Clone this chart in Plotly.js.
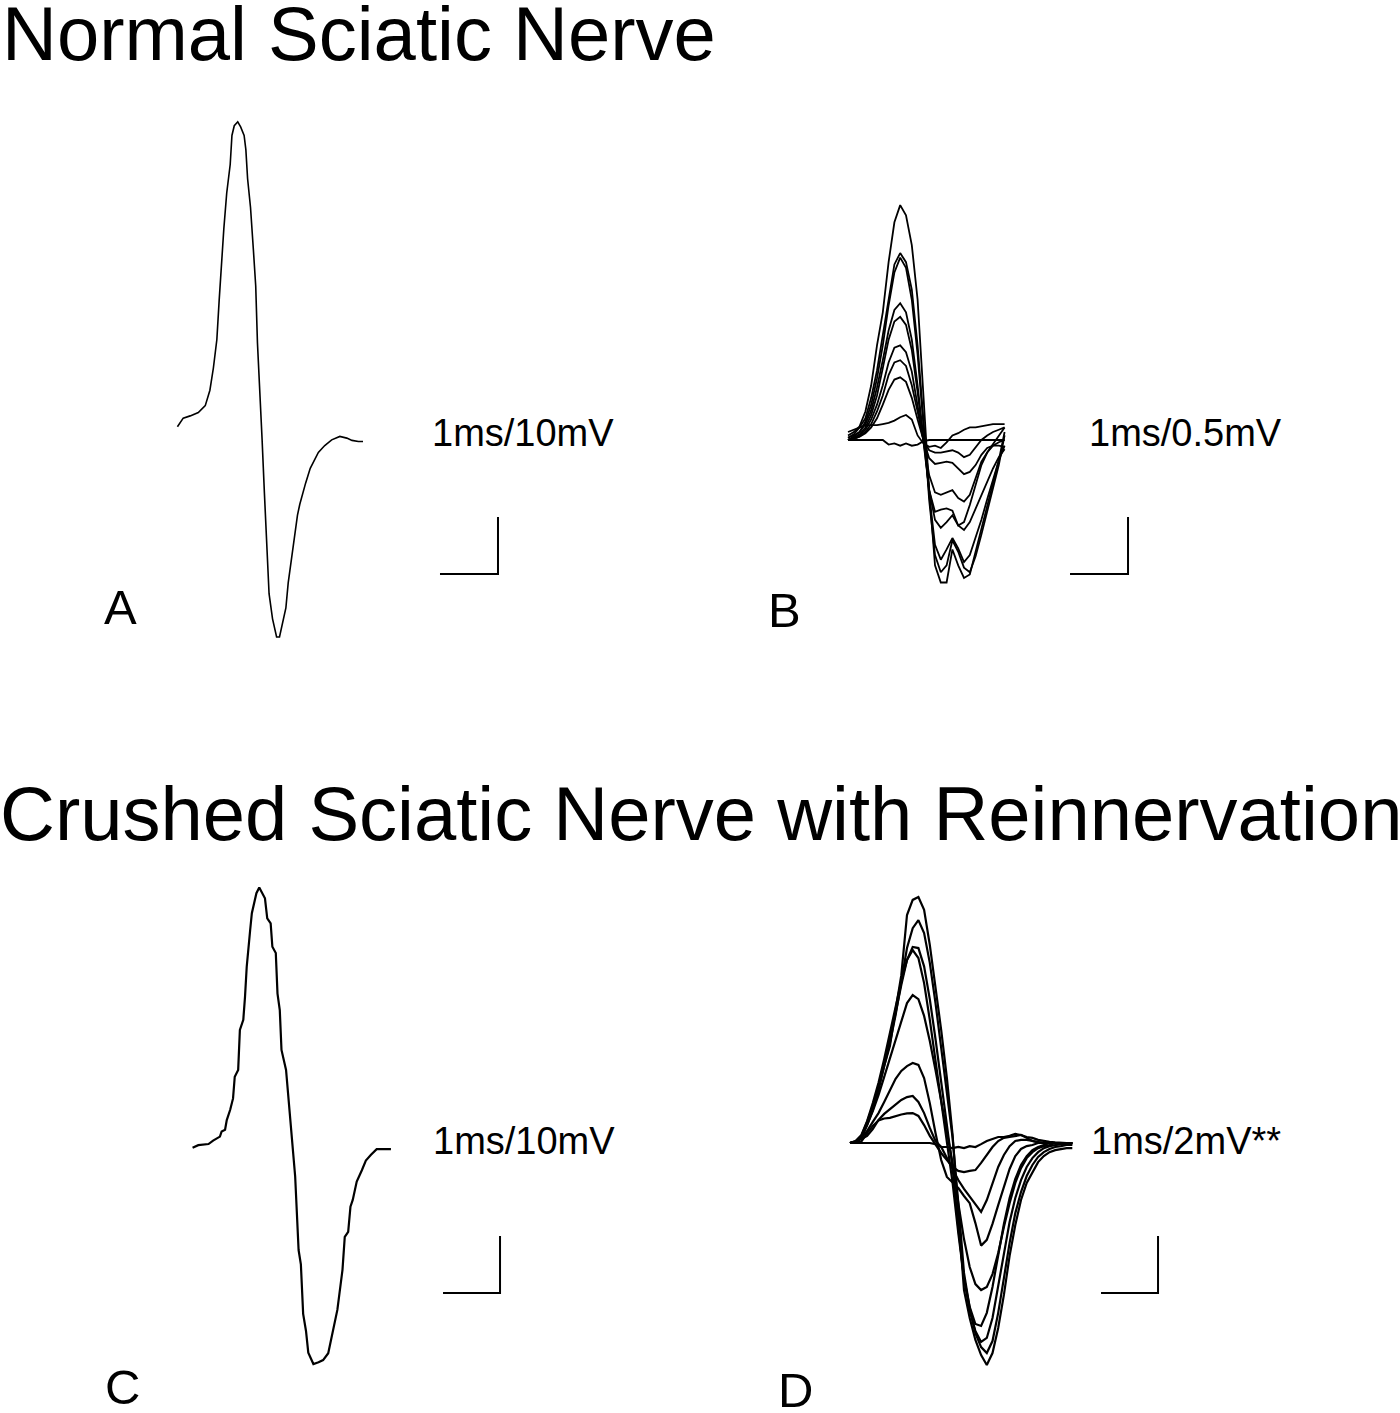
<!DOCTYPE html>
<html><head><meta charset="utf-8">
<script src="https://cdn.plot.ly/plotly-3.0.1.min.js"></script>
<style>html,body{margin:0;padding:0;background:#fff}#chart{width:1400px;height:1413px}</style>
</head><body><div id="chart"></div>
<script>
// ---------- DATA (time in ms, amplitude in mV) ----------
const tA = [-0.01,0.09,0.21,0.35,0.47,0.55,0.61,0.67,0.71,0.75,0.79,0.84,0.90,0.93,0.97,1.03,1.08,1.14,1.17,1.20,1.25,1.30,1.34,1.37,1.41,1.45,1.49,1.53,1.57,1.63,1.70,1.75,1.80,1.86,1.90,1.96,2.02,2.06,2.10,2.15,2.20,2.28,2.34,2.42,2.53,2.65,2.79,2.91,3.00,3.11,3.19];
const vA = [-0.3,1.2,1.6,2.2,3.4,6.1,10.0,15.0,21.9,28.8,34.4,40.7,45.7,50.8,52.5,53.2,52.3,50.8,48.3,43.2,38.2,30.7,24.4,14.4,6.8,-2.6,-12.0,-20.2,-29.6,-34.0,-37.2,-37.2,-34.6,-32.1,-27.7,-23.3,-18.9,-15.8,-13.9,-12.0,-10.2,-7.6,-6.4,-4.8,-3.6,-2.6,-2.0,-2.3,-2.7,-2.9,-2.9];

const tB = [0,0.1,0.2,0.3,0.4,0.5,0.6,0.7,0.8,0.9,1.0,1.1,1.2,1.3,1.4,1.5,1.6,1.7,1.8,1.9,2.0,2.1,2.2,2.3,2.4,2.5,2.6,2.7];
const vB1 = [0.04,0.07,0.12,0.25,0.48,0.83,1.12,1.56,1.91,2.06,1.97,1.71,1.23,0.44,-0.44,-1.10,-1.25,-1.25,-0.96,-1.10,-1.21,-1.18,-0.98,-0.79,-0.57,-0.38,-0.18,0.07];
const vB2 = [0.02,0.05,0.11,0.19,0.37,0.61,0.92,1.23,1.54,1.64,1.56,1.32,0.83,0.18,-0.53,-1.01,-1.16,-1.10,-0.88,-0.98,-1.12,-1.16,-1.02,-0.83,-0.62,-0.42,-0.22,0.04];
const vB3 = [0,0.03,0.07,0.16,0.31,0.54,0.83,1.18,1.47,1.60,1.51,1.23,0.75,0.13,-0.48,-0.92,-1.05,-0.96,-0.86,-0.95,-1.07,-1.01,-0.86,-0.70,-0.52,-0.35,-0.18,-0.05];
const vB4 = [0.02,0.04,0.07,0.14,0.26,0.46,0.70,0.96,1.14,1.20,1.12,0.88,0.48,0.04,-0.44,-0.70,-0.77,-0.72,-0.66,-0.75,-0.79,-0.72,-0.60,-0.48,-0.36,-0.25,-0.15,-0.08];
const vB5 = [0,0.02,0.05,0.11,0.22,0.39,0.63,0.88,1.04,1.08,1.01,0.79,0.42,0,-0.44,-0.63,-0.61,-0.60,-0.62,-0.75,-0.72,-0.57,-0.39,-0.22,-0.11,-0.04,0.04,0.11];
const vB6 = [0,0.02,0.04,0.09,0.18,0.31,0.48,0.68,0.81,0.83,0.77,0.60,0.31,0,-0.31,-0.46,-0.48,-0.46,-0.44,-0.51,-0.54,-0.48,-0.33,-0.19,-0.11,-0.05,-0.02,0];
const vB7 = [0,0.01,0.03,0.07,0.14,0.25,0.39,0.57,0.68,0.70,0.65,0.48,0.25,0,-0.16,-0.21,-0.20,-0.19,-0.20,-0.25,-0.30,-0.28,-0.22,-0.13,-0.07,-0.05,-0.05,-0.06];
const vB8 = [0,0.01,0.03,0.06,0.11,0.19,0.31,0.44,0.53,0.55,0.51,0.37,0.18,0,-0.09,-0.11,-0.11,-0.10,-0.09,-0.11,-0.15,-0.13,-0.06,0,0.04,0.07,0.09,0.11];
const vB9 = [0.07,0.09,0.11,0.13,0.13,0.13,0.14,0.15,0.17,0.20,0.22,0.18,0.04,-0.03,-0.06,-0.05,-0.07,-0.02,0.04,0.06,0.09,0.11,0.11,0.12,0.13,0.14,0.14,0.14];
const vB10 = [0,0,0,0,0,0,0,-0.04,-0.03,-0.05,-0.03,-0.05,-0.04,-0.01,0,0,0,0,0,0,0,0,0,0,0,0,0,0];

const tC = [0.01,0.11,0.29,0.37,0.49,0.52,0.58,0.61,0.67,0.72,0.75,0.81,0.84,0.90,0.93,0.96,1.02,1.05,1.13,1.18,1.28,1.32,1.38,1.41,1.47,1.50,1.54,1.57,1.65,1.72,1.81,1.87,1.91,1.95,2.00,2.04,2.13,2.22,2.30,2.39,2.46,2.55,2.64,2.68,2.74,2.78,2.82,2.89,2.98,3.05,3.14,3.21,3.24,3.49];
const vC = [0.05,0.5,0.7,1.3,2.0,2.9,3.2,4.9,6.7,8.7,12.5,13.7,20.7,22.5,26.5,31.8,38.2,41.2,44.7,45.7,43.8,40.3,39.4,35.3,34.2,27.1,24.2,17.2,13.7,5.5,-5.0,-17.9,-20.4,-29.1,-32.1,-35.9,-37.9,-37.6,-37.2,-36.0,-32.8,-28.4,-21.4,-15.6,-14.7,-10.3,-9.1,-5.9,-3.9,-2.2,-1.2,-0.5,-0.2,-0.2];

const tD = [0,0.1,0.2,0.3,0.4,0.5,0.6,0.7,0.8,0.9,1.0,1.1,1.2,1.3,1.4,1.5,1.6,1.7,1.8,1.9,2.0,2.1,2.2,2.3,2.4,2.5,2.6,2.7,2.8,2.9,3.0,3.1,3.2,3.3,3.4,3.5,3.6,3.7,3.8,3.9];
const vD1 = [0,0.04,0.18,0.63,1.16,1.86,2.70,3.40,4.67,5.89,8.00,8.53,8.63,8.18,6.95,5.54,3.96,2.28,0.28,-2.53,-5.16,-6.14,-6.91,-7.44,-7.79,-7.37,-6.49,-5.33,-3.96,-2.88,-2.00,-1.40,-1.02,-0.67,-0.46,-0.32,-0.25,-0.21,-0.18,-0.18];
const vD2 = [0,0.04,0.21,0.70,1.26,1.93,2.70,3.51,4.49,5.61,6.84,7.54,7.82,7.37,6.32,4.91,3.33,1.75,0.18,-2.10,-4.56,-5.79,-6.67,-7.16,-7.37,-6.95,-5.96,-4.74,-3.51,-2.46,-1.72,-1.16,-0.77,-0.49,-0.32,-0.21,-0.14,-0.11,-0.07,-0.07];
const vD3 = [0,0.07,0.25,0.74,1.30,2.00,2.81,3.65,4.56,5.54,6.42,6.88,6.84,6.20,5.05,3.65,2.18,0.70,-0.88,-2.98,-4.74,-5.89,-6.60,-6.98,-6.84,-6.14,-5.05,-3.86,-2.77,-1.93,-1.30,-0.84,-0.53,-0.32,-0.18,-0.11,-0.07,-0.04,-0.04,-0.04];
const vD4 = [0,0.07,0.28,0.77,1.40,2.11,2.95,3.86,4.77,5.68,6.42,6.77,6.49,5.61,4.32,2.91,1.47,0.07,-1.40,-3.16,-4.74,-5.75,-6.35,-6.42,-5.96,-5.05,-3.93,-2.84,-1.93,-1.26,-0.77,-0.46,-0.25,-0.14,-0.07,0,0,0,0,0];
const vD5 = [0,0.04,0.21,0.63,1.12,1.68,2.32,2.98,3.65,4.32,4.91,5.19,5.05,4.46,3.58,2.56,1.51,0.46,-0.70,-2.11,-3.37,-4.35,-4.95,-5.16,-5.05,-4.60,-3.86,-2.95,-2.11,-1.40,-0.88,-0.53,-0.32,-0.18,-0.11,-0.07,0,0,0,0];
const vD6 = [0,0.04,0.18,0.42,0.74,1.05,1.44,1.86,2.25,2.53,2.70,2.81,2.74,2.28,1.40,0.35,-0.60,-1.19,-1.40,-1.58,-1.86,-2.11,-2.81,-3.60,-3.40,-2.84,-2.18,-1.54,-0.91,-0.46,-0.21,-0.11,-0.07,0,0,0,0,0,0,0];
const vD7 = [0,0.04,0.14,0.25,0.49,0.81,1.02,1.19,1.37,1.51,1.61,1.65,1.44,1.05,0.53,0.07,-0.14,-0.53,-0.91,-1.30,-1.61,-1.89,-2.18,-2.42,-2.00,-1.40,-0.84,-0.42,-0.11,0.07,0.11,0.11,0.07,0.04,0,0,0,0,0,0];
const vD8 = [0,0.02,0.05,0.35,0.60,0.79,0.86,0.88,0.95,1.00,1.04,1.05,0.95,0.63,0.25,-0.07,-0.35,-0.60,-0.84,-0.98,-1.02,-0.98,-0.95,-0.70,-0.42,-0.14,0.07,0.18,0.21,0.25,0.28,0.18,0.07,0.02,0,0,0,0,0,0];
const vD9 = [0,0,0,0,0,0,0,0,0,0,0,0,0,0,0,-0.04,-0.14,-0.14,-0.18,-0.14,-0.18,-0.11,-0.14,-0.04,0.07,0.14,0.21,0.21,0.25,0.32,0.28,0.21,0.18,0.11,0.07,0.04,0.02,0,0,0];

const panelLetters = ['A','B','C','D'];
const scaleLabels = ['1ms/10mV','1ms/0.5mV','1ms/10mV','1ms/2mV**'];
const scaleMs = [1,1,1,1];
const scaleMv = [10,0.5,10,2];
const sectionTitles = ['Normal Sciatic Nerve','Crushed Sciatic Nerve with Reinnervation'];

// ---------- LAYOUT / GEOMETRY ----------
const W = 1400, H = 1413;
const FONT = 'Liberation Sans, Arial, Helvetica, sans-serif';
// dom: [left, right, top, bottom] in px; origin px of (0 ms, 0 mV); px per ms; px per mV
const panels = [
  {dom:[150,700,90,680],  x0:178, y0:425,  pxMs:58, pxMv:5.7,  lw:1.6, series:[[tA,[vA]]],
   bar:{t:5.517, v:-26.14}},
  {dom:[780,1340,90,680], x0:848, y0:440,  pxMs:58, pxMv:114,  lw:1.8, series:[[tB,[vB10,vB9,vB8,vB7,vB6,vB5,vB4,vB3,vB2,vB1]]],
   bar:{t:4.828, v:-1.175}},
  {dom:[150,700,860,1413], x0:192, y0:1148, pxMs:57, pxMv:5.7, lw:2.2, series:[[tC,[vC]]],
   bar:{t:5.404, v:-25.44}},
  {dom:[780,1340,860,1413], x0:850, y0:1143, pxMs:57, pxMv:28.5, lw:2.2, series:[[tD,[vD9,vD8,vD7,vD6,vD5,vD4,vD3,vD2,vD1]]],
   bar:{t:5.404, v:-5.263}}
];

const traces = [];
const layout = {
  width: W, height: H, margin:{l:0,r:0,t:0,b:0},
  paper_bgcolor:'#ffffff', plot_bgcolor:'rgba(0,0,0,0)',
  showlegend:false, annotations:[]
};

panels.forEach((p, i) => {
  const n = i === 0 ? '' : String(i+1);
  const xa = 'xaxis'+n, ya = 'yaxis'+n;
  layout[xa] = {
    domain:[p.dom[0]/W, p.dom[1]/W],
    range:[(p.dom[0]-p.x0)/p.pxMs, (p.dom[1]-p.x0)/p.pxMs],
    visible:false, fixedrange:true, anchor:'y'+n
  };
  layout[ya] = {
    domain:[1-p.dom[3]/H, 1-p.dom[2]/H],
    range:[(p.y0-p.dom[3])/p.pxMv, (p.y0-p.dom[2])/p.pxMv],
    visible:false, fixedrange:true, anchor:'x'+n
  };
  p.series.forEach(([t, vs]) => {
    vs.forEach(v => traces.push({
      type:'scatter', mode:'lines', x:t, y:v, xaxis:'x'+n, yaxis:'y'+n,
      line:{color:'#000', width:p.lw, shape:'linear'}, hoverinfo:'skip'
    }));
  });
  // scale bar: 1 ms horizontal + amplitude vertical (L shape)
  traces.push({
    type:'scatter', mode:'lines', xaxis:'x'+n, yaxis:'y'+n,
    x:[p.bar.t - scaleMs[i], p.bar.t, p.bar.t],
    y:[p.bar.v, p.bar.v, p.bar.v + scaleMv[i]],
    line:{color:'#000', width:2}, hoverinfo:'skip'
  });
});

function ann(text, pxLeft, pxMidY, size){
  layout.annotations.push({
    text:text, xref:'paper', yref:'paper', x:pxLeft/W, y:1-pxMidY/H,
    xanchor:'left', yanchor:'middle', showarrow:false,
    font:{family:FONT, size:size, color:'#000'}
  });
}
ann(sectionTitles[0], 0, 34, 76);
ann(sectionTitles[1], -2, 813, 76);
ann(scaleLabels[0], 430, 433, 38);
ann(scaleLabels[1], 1087, 433, 38);
ann(scaleLabels[2], 431, 1141, 38);
ann(scaleLabels[3], 1089, 1141, 38);
ann(panelLetters[0], 102, 607, 49);
ann(panelLetters[1], 766, 610, 49);
ann(panelLetters[2], 103, 1387, 49);
ann(panelLetters[3], 776, 1390, 49);

Plotly.newPlot('chart', traces, layout, {staticPlot:true, displayModeBar:false});
</script>
</body></html>
